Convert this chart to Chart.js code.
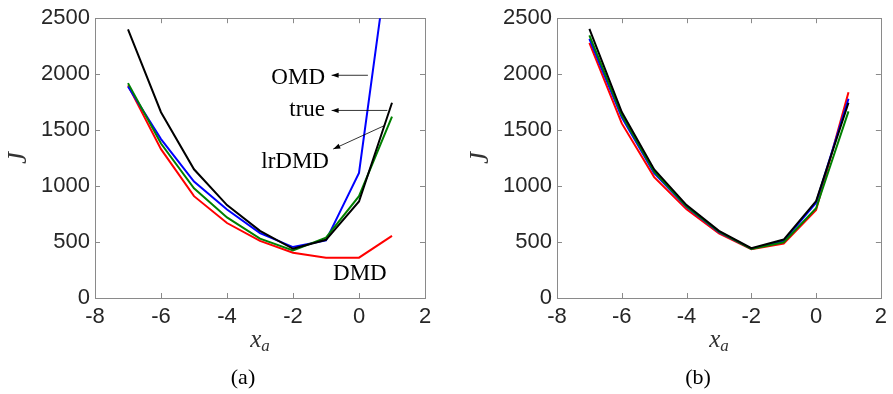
<!DOCTYPE html>
<html>
<head>
<meta charset="utf-8">
<script src="https://cdn.jsdelivr.net/npm/chart.js@4"></script>
<style>
  html, body { margin: 0; padding: 0; background: #fff; }
  #wrap { position: relative; width: 893px; height: 394px; }
  .panel { position: absolute; top: 0; height: 394px; }
</style>
</head>
<body>
<div id="wrap">
  <div class="panel" style="left:0;width:446px"><canvas id="ca"></canvas></div>
  <div class="panel" style="left:446px;width:447px"><canvas id="cb"></canvas></div>
</div>
<script>
const xa = [-7, -6, -5, -4, -3, -2, -1, 0, 1]
const xTicks = [-8, -6, -4, -2, 0, 2]
const yTicks = [0, 500, 1000, 1500, 2000, 2500]

// panel (a)
const trueA  = [2400, 1660, 1150, 830, 600, 440, 520, 862, 1745]
const omdA   = [1890, 1420, 1040, 790, 580, 455, 515, 1118, 3290]
const lrdmdA = [1920, 1380, 980, 720, 530, 425, 540, 910, 1620]
const dmdA   = [1900, 1330, 910, 670, 510, 405, 360, 360, 555]

// panel (b)
const trueB  = [2405, 1662, 1148, 830, 600, 445, 522, 866, 1745]
const omdB   = [2315, 1615, 1115, 812, 588, 440, 510, 852, 1780]
const lrdmdB = [2347, 1635, 1128, 818, 592, 438, 498, 802, 1668]
const dmdB   = [2280, 1560, 1080, 792, 578, 435, 486, 786, 1838]

// annotations of panel (a), in data units
const notes = [
  { text: "OMD",   x: -1.03, y: 1908, from: [0.27, 1990], to: [-0.83, 1990] },
  { text: "true",  x: -1.03, y: 1625, from: [0.86, 1676], to: [-0.83, 1676] },
  { text: "lrDMD", x: -0.91, y: 1160, from: [0.79, 1543], to: [-0.78, 1331] },
  { text: "DMD",   x: 0.84,  y: 159 }
]

const tickFont = { family: "'Liberation Sans', Arial, sans-serif", size: 22 }
const serif = "'Liberation Serif', 'DejaVu Serif', serif"

const pts = arr => arr.map((v, i) => ({ x: xa[i], y: v }))

function series(t, o, l, d) {
  const s = (data, color, order) => ({
    data: pts(data), borderColor: color, backgroundColor: color,
    borderWidth: 2, pointRadius: 0, tension: 0, order
  })
  return [s(d, "#ff0000", 3), s(o, "#0000ff", 2), s(l, "#008000", 1), s(t, "#000000", 0)]
}

// box with inward ticks on all four sides, MATLAB style
const boxTicks = {
  id: "boxTicks",
  beforeDatasetsDraw(chart) {
    const { ctx, chartArea: a, scales: { x, y } } = chart
    ctx.save()
    ctx.strokeStyle = "#8a8a8a"
    ctx.lineWidth = 1
    ctx.strokeRect(Math.round(a.left) + 0.5, Math.round(a.top) + 0.5,
      Math.round(a.width), Math.round(a.height))
    ctx.beginPath()
    const t = 5
    xTicks.forEach(v => {
      const px = Math.round(x.getPixelForValue(v)) + 0.5
      ctx.moveTo(px, a.bottom); ctx.lineTo(px, a.bottom - t)
      ctx.moveTo(px, a.top); ctx.lineTo(px, a.top + t)
    })
    yTicks.forEach(v => {
      const py = Math.round(y.getPixelForValue(v)) + 0.5
      ctx.moveTo(a.left, py); ctx.lineTo(a.left + t, py)
      ctx.moveTo(a.right, py); ctx.lineTo(a.right - t, py)
    })
    ctx.stroke()
    ctx.restore()
  }
}

// axis titles and caption
function labels(caption, capX) {
  return {
    id: "labels",
    afterDraw(chart) {
      const { ctx, chartArea: a } = chart
      ctx.save()
      ctx.fillStyle = "#333"
      // x_a
      const cx = (a.left + a.right) / 2
      ctx.font = "italic 25px " + serif
      const wx = ctx.measureText("x").width
      ctx.font = "italic 17px " + serif
      const wa = ctx.measureText("a").width
      const x0 = cx - (wx + wa) / 2
      ctx.font = "italic 25px " + serif
      ctx.textBaseline = "alphabetic"
      ctx.fillText("x", x0, 347)
      ctx.font = "italic 17px " + serif
      ctx.fillText("a", x0 + wx, 351)
      // J
      ctx.save()
      ctx.translate(a.left - 69, (a.top + a.bottom) / 2)
      ctx.rotate(-Math.PI / 2)
      ctx.font = "italic 27px " + serif
      ctx.textAlign = "center"
      ctx.fillText("J", 0, 0)
      ctx.restore()
      // caption
      ctx.fillStyle = "#000"
      ctx.font = "22px " + serif
      ctx.textAlign = "center"
      ctx.fillText(caption, capX, 384)
      ctx.restore()
    }
  }
}

const notesPlugin = {
  id: "notes",
  afterDatasetsDraw(chart) {
    const { ctx, scales: { x, y } } = chart
    ctx.save()
    ctx.fillStyle = "#000"
    ctx.strokeStyle = "#000"
    ctx.font = "23px " + serif
    ctx.textAlign = "right"
    ctx.textBaseline = "alphabetic"
    notes.forEach(n => {
      ctx.fillText(n.text, x.getPixelForValue(n.x), y.getPixelForValue(n.y))
      if (!n.from) return
      const x1 = x.getPixelForValue(n.from[0]), y1 = y.getPixelForValue(n.from[1])
      const x2 = x.getPixelForValue(n.to[0]), y2 = y.getPixelForValue(n.to[1])
      ctx.lineWidth = 0.8
      ctx.beginPath(); ctx.moveTo(x1, y1); ctx.lineTo(x2, y2); ctx.stroke()
      const ang = Math.atan2(y2 - y1, x2 - x1), L = 7, W = 2.5
      ctx.beginPath()
      ctx.moveTo(x2, y2)
      ctx.lineTo(x2 - L * Math.cos(ang) + W * Math.sin(ang), y2 - L * Math.sin(ang) - W * Math.cos(ang))
      ctx.lineTo(x2 - L * Math.cos(ang) - W * Math.sin(ang), y2 - L * Math.sin(ang) + W * Math.cos(ang))
      ctx.closePath(); ctx.fill()
    })
    ctx.restore()
  }
}

function makeChart(id, datasets, yWidth, padRight, caption, capX, extra) {
  return new Chart(document.getElementById(id), {
    type: "line",
    data: { datasets },
    options: {
      responsive: true,
      maintainAspectRatio: false,
      animation: false,
      layout: { padding: { top: 15, right: padRight, left: 0, bottom: 0 } },
      plugins: { legend: { display: false }, tooltip: { enabled: false } },
      scales: {
        x: {
          type: "linear", min: -8, max: 2,
          afterBuildTicks: s => { s.ticks = xTicks.map(v => ({ value: v })) },
          afterFit: s => { s.height = 96 },
          grid: { display: false, drawTicks: false },
          border: { display: false },
          ticks: { color: "#262626", font: tickFont, padding: 6, maxRotation: 0, callback: v => String(v) }
        },
        y: {
          min: 0, max: 2500,
          afterBuildTicks: s => { s.ticks = yTicks.map(v => ({ value: v })) },
          afterFit: s => { s.width = yWidth },
          grid: { display: false, drawTicks: false },
          border: { display: false },
          ticks: { color: "#262626", font: tickFont, padding: 5, callback: v => String(v) }
        }
      }
    },
    plugins: [boxTicks, labels(caption, capX)].concat(extra)
  })
}

makeChart("ca", series(trueA, omdA, lrdmdA, dmdA), 95, 21, "(a)", 243, [notesPlugin])
makeChart("cb", series(trueB, omdB, lrdmdB, dmdB), 111, 7, "(b)", 698 - 446, [])
</script>
</body>
</html>
